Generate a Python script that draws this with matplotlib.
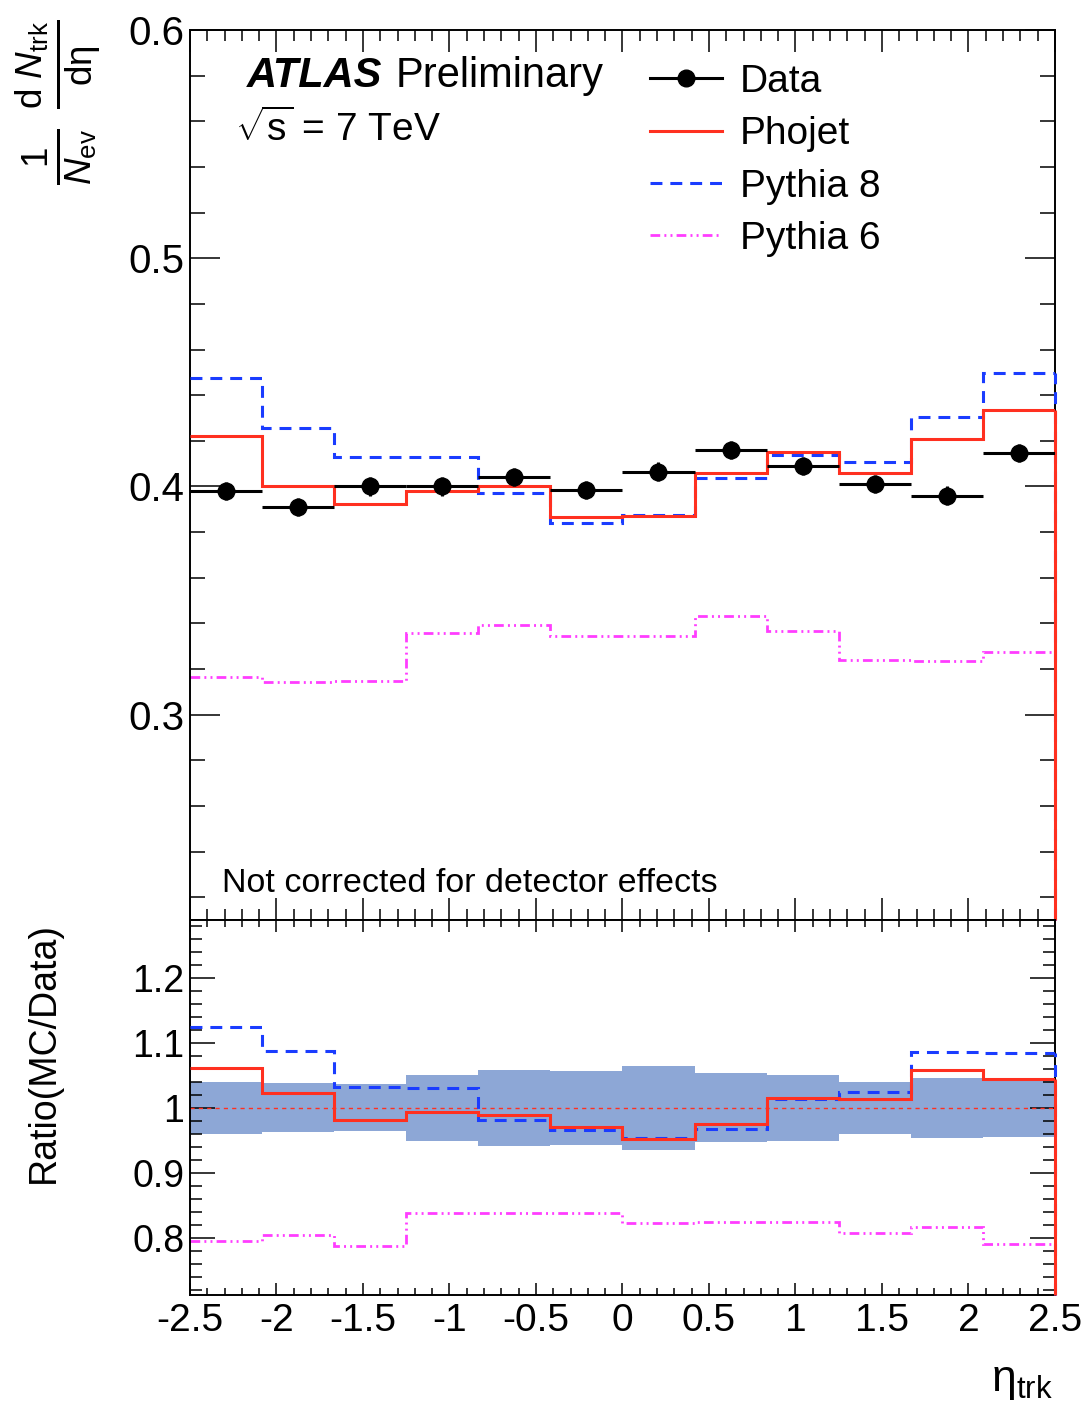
import numpy as np
import matplotlib
matplotlib.use('Agg')
import matplotlib.pyplot as plt
from matplotlib.lines import Line2D
from matplotlib.ticker import MultipleLocator, FuncFormatter

plt.rcParams['font.family'] = ['Liberation Sans', 'DejaVu Sans']
plt.rcParams['mathtext.fontset'] = 'custom'
plt.rcParams['mathtext.rm'] = 'Liberation Sans'
plt.rcParams['mathtext.it'] = 'Liberation Sans:italic'
plt.rcParams['mathtext.bf'] = 'Liberation Sans:bold'
plt.rcParams['axes.unicode_minus'] = False

# ---- data (12 eta bins) ----
eta_edges = np.linspace(-2.5, 2.5, 13)

data = [0.398, 0.391, 0.400, 0.400, 0.404, 0.3985, 0.4065, 0.416, 0.409, 0.401, 0.396, 0.4145]
data_err = [0.004, 0.004, 0.004, 0.004, 0.004, 0.004, 0.004, 0.004, 0.004, 0.004, 0.004, 0.004]
phojet = [0.4223, 0.400, 0.3924, 0.3978, 0.400, 0.3868, 0.3871, 0.4058, 0.4153, 0.4058, 0.4207, 0.4333]
pythia8 = [0.4477, 0.4255, 0.4127, 0.4127, 0.3971, 0.3842, 0.3876, 0.4036, 0.4138, 0.4106, 0.4304, 0.4499]
pythia6 = [0.3164, 0.3142, 0.3148, 0.3359, 0.3393, 0.3343, 0.3345, 0.3434, 0.3368, 0.3240, 0.3233, 0.3275]

ratio_phojet = [1.061, 1.023, 0.981, 0.994, 0.989, 0.971, 0.952, 0.975, 1.0145, 1.013, 1.059, 1.044]
ratio_pythia8 = [1.124, 1.088, 1.0315, 1.030, 0.981, 0.9655, 0.954, 0.968, 1.013, 1.025, 1.086, 1.084]
ratio_pythia6 = [0.795, 0.804, 0.787, 0.839, 0.839, 0.839, 0.823, 0.825, 0.824, 0.808, 0.816, 0.790]
band_half = [0.0405, 0.0375, 0.036, 0.051, 0.058, 0.0565, 0.065, 0.053, 0.051, 0.040, 0.046, 0.045]

RED = '#FF3020'
BLUE = '#1A3CFF'
MAG = '#FF3DFF'
BAND = '#8DA7D6'
LS_P8 = (0, (3.9, 2.6))
LS_P6 = (0, (3.5, 1.5, 0.7, 1.5, 0.7, 1.5))

centers = 0.5 * (eta_edges[1:] + eta_edges[:-1])
half_w = 0.5 * np.diff(eta_edges)

fig = plt.figure(figsize=(10.83, 14.04), dpi=100)
ax = fig.add_axes([0.1754, 0.3447, 0.7987, 0.6339])
axr = fig.add_axes([0.1754, 0.0776, 0.7987, 0.2671])

YLO, YHI = 0.21, 0.6
RLO, RHI = 0.712, 1.289


def draw_hist(a, vals, color, ls, lw, ylo, z):
    a.stairs(vals, eta_edges, baseline=None, color=color, linestyle=ls, lw=lw, zorder=z)
    # ROOT draws the last edge down to the axis
    a.vlines(eta_edges[-1], ylo, vals[-1], color=color, linestyles=[ls], lw=lw,
             clip_on=False, zorder=z)


# ---------- top panel ----------
draw_hist(ax, pythia6, MAG, LS_P6, 2.0, YLO, 2)
draw_hist(ax, pythia8, BLUE, LS_P8, 2.2, YLO, 3)
draw_hist(ax, phojet, RED, '-', 2.2, YLO, 4)
ax.errorbar(centers, data, xerr=half_w, yerr=data_err, fmt='o', color='k',
            ms=12, elinewidth=2.2, capsize=0, zorder=5)

ax.set_xlim(-2.5, 2.5)
ax.set_ylim(YLO, YHI)
ax.xaxis.set_major_locator(MultipleLocator(0.5))
ax.xaxis.set_minor_locator(MultipleLocator(0.1))
ax.yaxis.set_major_locator(MultipleLocator(0.1))
ax.yaxis.set_minor_locator(MultipleLocator(0.02))
ax.yaxis.set_major_formatter(FuncFormatter(lambda v, p: f'{v:g}'))
ax.tick_params(which='both', direction='in', top=True, right=True, labelbottom=False, width=1.1)
ax.tick_params(axis='y', which='major', length=21.6, labelsize=29, pad=4)
ax.tick_params(axis='y', which='minor', length=10.8)
ax.tick_params(axis='x', which='major', length=16)
ax.tick_params(axis='x', which='minor', length=8)
for s in ax.spines.values():
    s.set_linewidth(1.4)

ax.text(0.066, 0.936, 'ATLAS', fontsize=30, fontweight='bold', style='italic',
        transform=ax.transAxes, va='baseline')
ax.text(0.238, 0.936, 'Preliminary', fontsize=30, transform=ax.transAxes, va='baseline')
ax.text(0.052, 0.876, r'$\sqrt{\mathrm{s}}$ = 7 TeV', fontsize=28,
        transform=ax.transAxes, va='baseline')
ax.text(0.037, 0.0315, 'Not corrected for detector effects', fontsize=24.5,
        transform=ax.transAxes, va='baseline')

handles = [
    Line2D([], [], color='k', marker='o', ms=12, lw=2.2),
    Line2D([], [], color=RED, lw=2.2),
    Line2D([], [], color=BLUE, lw=2.2, ls=LS_P8),
    Line2D([], [], color=MAG, lw=2.0, ls=LS_P6),
]
ax.legend(handles, ['Data', 'Phojet', 'Pythia 8', 'Pythia 6'], loc='upper left',
          bbox_to_anchor=(0.532, 0.962), frameon=False, fontsize=28,
          handlelength=1.85, handletextpad=0.45, labelspacing=0.42,
          borderaxespad=0, borderpad=0)

# ---------- ratio panel ----------
lo = np.array([1 - h for h in band_half])
hi = np.array([1 + h for h in band_half])
axr.stairs(hi, eta_edges, baseline=lo, fill=True, color=BAND, lw=0, zorder=1)
axr.axhline(1.0, color=RED, lw=1.0, ls=(0, (3, 3)), zorder=2)
draw_hist(axr, ratio_pythia6, MAG, LS_P6, 2.0, RLO, 2)
draw_hist(axr, ratio_pythia8, BLUE, LS_P8, 2.2, RLO, 3)
draw_hist(axr, ratio_phojet, RED, '-', 2.2, RLO, 4)

axr.set_xlim(-2.5, 2.5)
axr.set_ylim(RLO, RHI)
axr.xaxis.set_major_locator(MultipleLocator(0.5))
axr.xaxis.set_minor_locator(MultipleLocator(0.1))
axr.yaxis.set_major_locator(MultipleLocator(0.1))
axr.yaxis.set_minor_locator(MultipleLocator(0.02))
fmt = FuncFormatter(lambda v, p: f'{round(v, 3):g}')
axr.xaxis.set_major_formatter(fmt)
axr.yaxis.set_major_formatter(fmt)
axr.tick_params(which='both', direction='in', top=True, right=True, width=1.1)
axr.tick_params(axis='y', which='major', length=18, labelsize=27, pad=4)
axr.tick_params(axis='y', which='minor', length=8.6)
axr.tick_params(axis='x', which='major', length=8.5, labelsize=28, pad=6)
axr.tick_params(axis='x', which='minor', length=5)
for s in axr.spines.values():
    s.set_linewidth(1.4)

# ---------- axis titles ----------
fig.text(58 / 1083, 1 - 20 / 1404,
         r'$\frac{1}{N_{\mathrm{ev}}}\ \frac{\mathrm{d}\ N_{\mathrm{trk}}}{\mathrm{d\eta}}$',
         rotation=90, ha='center', va='top', fontsize=38)
fig.text(44 / 1083, 1 - 922 / 1404, 'Ratio(MC/Data)', rotation=90,
         ha='center', va='top', fontsize=27)
fig.text(1053 / 1083, 2 / 1404, r'$\mathrm{\eta}_{\mathrm{trk}}$', ha='right', va='bottom',
         fontsize=32)

fig.savefig('out.png', dpi=100)
